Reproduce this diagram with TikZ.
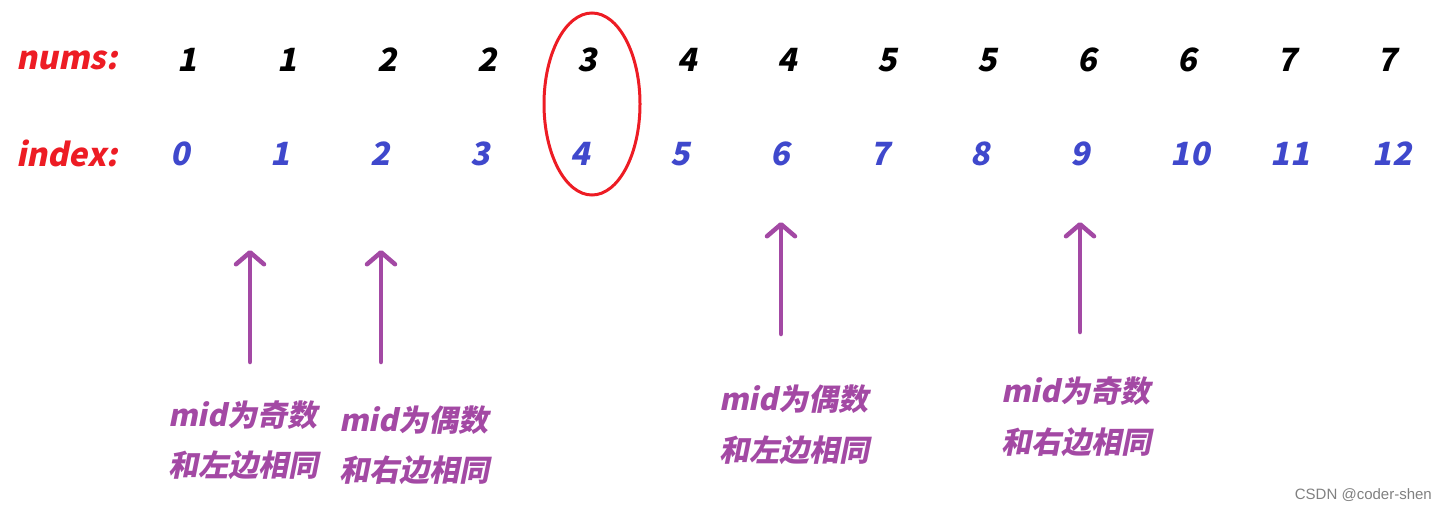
\documentclass[tikz,border=0pt]{standalone}
\usepackage{fontspec}
\usetikzlibrary{arrows.meta}
\newfontfamily\cjk[FakeSlant=0.2]{Noto Sans CJK SC}
\newfontfamily\marksans{Liberation Sans}
\definecolor{paintred}{HTML}{ED1C24}
\definecolor{paintblue}{HTML}{3F48CC}
\definecolor{paintpurple}{HTML}{A349A4}
\tikzset{
  txt/.style={inner sep=0pt,font=\cjk\bfseries\fontsize{32}{36}\selectfont},
  numtxt/.style={txt,black},
  idxtxt/.style={txt,paintblue},
  headtxt/.style={txt,paintred,anchor=west},
  note/.style={txt,paintpurple,anchor=west,font=\cjk\bfseries\fontsize{30}{34}\selectfont},
  up/.style={paintpurple,line width=4.5pt,line cap=round,-{Straight Barb[length=12pt,width=28pt,round]}}
}
\begin{document}
\begin{tikzpicture}[x=1pt,y=-1pt]
		\useasboundingbox (0,0) rectangle (1447,511);
		\node[headtxt] (nums) at (16,60) {nums:};
		\node[headtxt] (index) at (16,153) {index:};
		\foreach \x/\n [count=\i from 0] in {187/1,287/1,387/2,487/2,587/3,687/4,787/4,887/5,987/5,1087/6,1187/6,1287/7,1387/7}
			\node[numtxt] (n\i) at (\x,60) {\n};
		\foreach \x/\n in {180/0,280/1,380/2,480/3,580/4,680/5,780/6,880/7,980/8,1080/9,1190/10,1290/11,1392/12}
			\node[idxtxt] (i\n) at (\x,154) {\n};
		\draw[paintred,line width=3pt] (592,104) ellipse (48 and 91);
		% arrows under the index row
		\coordinate (a1) at (250,362); \coordinate (b1) at (250,250);
		\coordinate (a2) at (381,362); \coordinate (b2) at (381,250);
		\coordinate (a3) at (781,334); \coordinate (b3) at (781,222);
		\coordinate (a4) at (1080,332); \coordinate (b4) at (1080,222);
		\draw[up] (a1) -- (b1);
		\draw[up] (a2) -- (b2);
		\draw[up] (a3) -- (b3);
		\draw[up] (a4) -- (b4);
		\node[note] (m1) at (168,415) {mid为奇数};
		\node[note] (s1) at (168,465) {和左边相同};
		\node[note] (m2) at (339,420) {mid为偶数};
		\node[note] (s2) at (339,470) {和右边相同};
		\node[note] (m3) at (719,399) {mid为偶数};
		\node[note] (s3) at (719,450) {和左边相同};
		\node[note] (m4) at (1001,391) {mid为奇数};
		\node[note] (s4) at (1001,442) {和右边相同};
		\node[inner sep=0pt,anchor=east,gray,font=\marksans\fontsize{15}{18}\selectfont] (mark) at (1432,495) {CSDN @coder-shen};
		\end{tikzpicture}
\end{document}
